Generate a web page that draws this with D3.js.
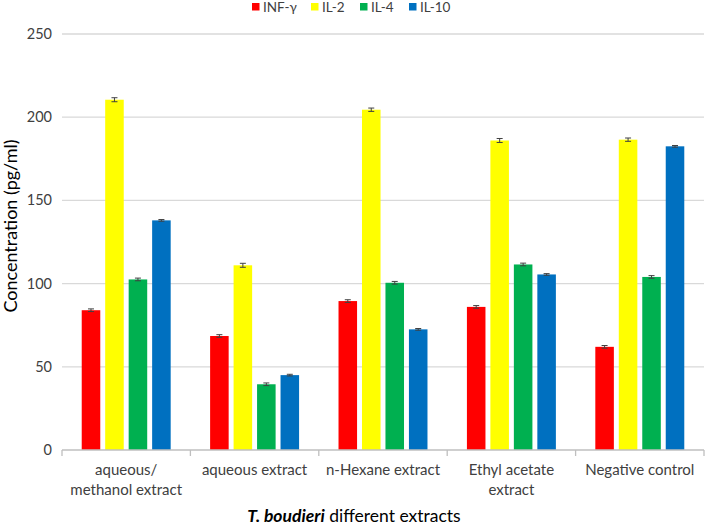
<!DOCTYPE html>
<html><head><meta charset="utf-8">
<script src="https://cdn.jsdelivr.net/npm/d3@7"></script>
<style>body{margin:0;background:#fff}svg{display:block;font-family:Lato,"Open Sans",sans-serif}</style>
</head><body><svg id="c" width="708" height="525"></svg>
<script>
const categories = [["aqueous/","methanol extract"],["aqueous extract"],["n-Hexane extract"],["Ethyl acetate","extract"],["Negative control"]];
const series = ["INF-γ","IL-2","IL-4","IL-10"];
const colors = ["#ff0000","#ffff00","#00b050","#0070c0"];
const vINF = [84, 68.5, 89.5, 86, 62];
const vIL2 = [210.5, 111, 204.5, 186, 186.5];
const vIL4 = [102.5, 39.5, 100.5, 111.5, 104];
const vIL10 = [138, 45, 72.5, 105.5, 182.5];
const errs = [[0.8,0.8,0.8,0.8,0.8],[1.2,1.2,1.0,1.2,1.0],[0.8,0.8,0.8,0.8,0.8],[0.5,0.5,0.5,0.5,0.5]];
const yTicks = [0,50,100,150,200,250];
const values = [vINF, vIL2, vIL4, vIL10];

const svg = d3.select("#c");
const pL = 62, pR = 704, pT = 34, pB = 450;
const x0 = d3.scaleBand().domain(d3.range(categories.length)).range([pL,pR]).padding(0);
const x1 = d3.scaleBand().domain(d3.range(series.length)).range([0,x0.bandwidth()]).paddingInner(0.21).paddingOuter(0.84);
const y = d3.scaleLinear().domain([0,250]).range([pB,pT]);

svg.append("g").selectAll("line").data(yTicks.filter(d=>d>0)).join("line")
  .attr("x1",pL).attr("x2",pR).attr("y1",d=>y(d)).attr("y2",d=>y(d))
  .attr("stroke","#d9d9d9").attr("stroke-width",1.3);

svg.append("g").selectAll("text").data(yTicks).join("text")
  .attr("x",52).attr("y",d=>y(d)).attr("dy","0.35em").attr("text-anchor","end")
  .attr("font-size",14.5).attr("fill","#404040").text(d=>d);

const g = svg.append("g");
series.forEach((s,si)=>{
  g.append("g").selectAll("rect").data(values[si]).join("rect")
    .attr("x",(d,i)=>x0(i)+x1(si)).attr("width",x1.bandwidth())
    .attr("y",d=>y(d)).attr("height",d=>pB-y(d)).attr("fill",colors[si]);
  const eb = g.append("g").attr("stroke","#404040").attr("stroke-width",1);
  values[si].forEach((d,i)=>{
    const cx = x0(i)+x1(si)+x1.bandwidth()/2, e = errs[si][i];
    eb.append("line").attr("x1",cx).attr("x2",cx).attr("y1",y(d+e)).attr("y2",y(d-e));
    eb.append("line").attr("x1",cx-3).attr("x2",cx+3).attr("y1",y(d+e)).attr("y2",y(d+e));
    eb.append("line").attr("x1",cx-3).attr("x2",cx+3).attr("y1",y(d-e)).attr("y2",y(d-e));
  });
});

const ax = svg.append("g").attr("stroke","#bfbfbf").attr("stroke-width",1.3);
ax.append("line").attr("x1",pL).attr("x2",pR).attr("y1",pB).attr("y2",pB);
d3.range(categories.length+1).forEach(i=>{
  const xx = i<categories.length ? x0(i) : pR;
  ax.append("line").attr("x1",xx).attr("x2",xx).attr("y1",pB).attr("y2",pB+6);
});

categories.forEach((lines,i)=>{
  const cx = x0(i)+x0.bandwidth()/2;
  const t = svg.append("text").attr("x",cx).attr("y",475)
    .attr("text-anchor","middle").attr("font-size",15).attr("fill","#404040");
  lines.forEach((l,j)=>t.append("tspan").attr("x",cx).attr("dy",j?20:0).text(l));
});

const xt = svg.append("text").attr("x",354).attr("y",522).attr("text-anchor","middle").attr("font-size",17.5).attr("fill","#000");
xt.append("tspan").attr("font-weight","bold").attr("font-style","italic").text("T. boudieri");
xt.append("tspan").text(" different extracts");
svg.append("text").attr("transform","translate(17,226) rotate(-90)").attr("text-anchor","middle")
  .attr("font-size",18).attr("fill","#000").text("Concentration (pg/ml)");

const lx = [252,311,360,409];
series.forEach((s,i)=>{
  svg.append("rect").attr("x",lx[i]).attr("y",3).attr("width",7.5).attr("height",7.5).attr("fill",colors[i]);
  svg.append("text").attr("x",lx[i]+11).attr("y",7.5).attr("dy","0.35em").attr("font-size",13.5).attr("fill","#404040").text(s);
});
</script></body></html>
